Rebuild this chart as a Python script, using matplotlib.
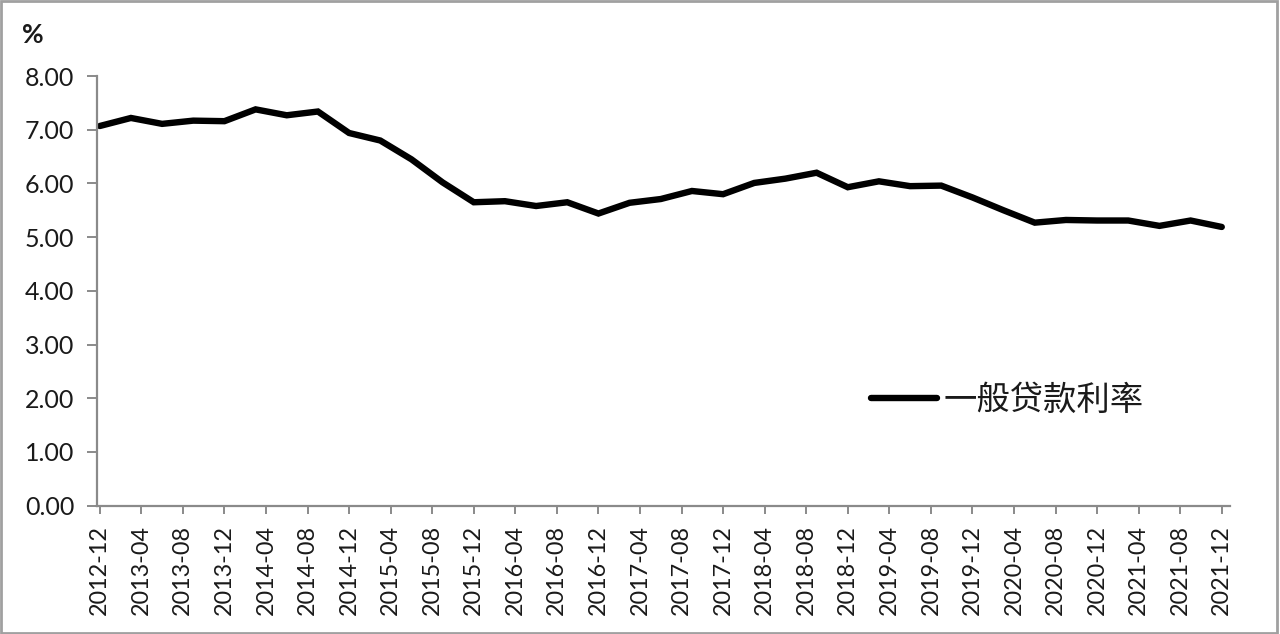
import matplotlib

matplotlib.use("Agg")
import matplotlib.pyplot as plt
from matplotlib.patches import Rectangle

plt.rcParams["font.family"] = ["Lato", "Noto Sans CJK SC", "DejaVu Sans"]

INK = "#1a1a1a"
AXIS_C = "#8a8a8a"

# quarterly data, 2012-12 .. 2021-12 (general loan weighted average rate, %)
quarters = [
    "2012-12", "2013-03", "2013-06", "2013-09", "2013-12",
    "2014-03", "2014-06", "2014-09", "2014-12",
    "2015-03", "2015-06", "2015-09", "2015-12",
    "2016-03", "2016-06", "2016-09", "2016-12",
    "2017-03", "2017-06", "2017-09", "2017-12",
    "2018-03", "2018-06", "2018-09", "2018-12",
    "2019-03", "2019-06", "2019-09", "2019-12",
    "2020-03", "2020-06", "2020-09", "2020-12",
    "2021-03", "2021-06", "2021-09", "2021-12",
]
rates = [
    7.07, 7.22, 7.11, 7.17, 7.16,
    7.38, 7.27, 7.34, 6.94,
    6.80, 6.45, 6.02, 5.65,
    5.67, 5.58, 5.65, 5.44,
    5.64, 5.71, 5.86, 5.80,
    6.01, 6.09, 6.20, 5.93,
    6.04, 5.95, 5.96, 5.74,
    5.50, 5.27, 5.32, 5.31,
    5.31, 5.21, 5.31, 5.19,
]
series_label = "一般贷款利率"


def month_index(s):
    y, m = s.split("-")
    return (int(y) - 2012) * 12 + int(m) - 12


x = [month_index(q) for q in quarters]
tick_pos = list(range(0, x[-1] + 1, 4))
tick_labels = []
for p in tick_pos:
    total = 2012 * 12 + 11 + p
    tick_labels.append(f"{total // 12}-{total % 12 + 1:02d}")

fig = plt.figure(figsize=(12.8, 6.34), dpi=100)
ax = fig.add_axes([0.0755, 0.2025, 0.8855, 0.6775])

ax.plot(x, rates, color="black", lw=4.6, solid_joinstyle="miter",
        solid_capstyle="round", label=series_label)

ax.set_xlim(-0.3, 108.8)
ax.set_ylim(0, 8)
ax.set_yticks([i for i in range(0, 9)])
ax.set_yticklabels([f"{i:.2f}" for i in range(0, 9)])
ax.set_xticks(tick_pos)
ax.set_xticklabels(tick_labels, rotation=90)

for side in ("top", "right"):
    ax.spines[side].set_visible(False)
for side in ("left", "bottom"):
    ax.spines[side].set_color(AXIS_C)
    ax.spines[side].set_linewidth(1.6)

ax.tick_params(axis="y", direction="out", length=7, width=1.4, color=AXIS_C,
               labelsize=18, labelcolor=INK, pad=9)
ax.tick_params(axis="x", direction="out", length=6, width=1.4, color=AXIS_C,
               labelsize=16.8, labelcolor=INK, pad=8)

fig.text(33 / 1280, 1 - 35 / 634, "%", fontsize=19, fontweight="bold",
         color=INK, ha="center", va="center")

leg = ax.legend(loc="center left", bbox_to_anchor=(854 / 1280, 1 - 400 / 634),
                bbox_transform=fig.transFigure, frameon=False, borderpad=0,
                handlelength=2.0, handletextpad=0.2,
                prop={"family": ["Noto Sans CJK SC", "DejaVu Sans"], "size": 24,
                      "weight": "light"})
for t in leg.get_texts():
    t.set_color(INK)

# grey frame around the whole chart area
fig.patches.append(Rectangle((0.001, 0.002), 0.997, 0.996, transform=fig.transFigure,
                             fill=False, ec="#a0a0a0", lw=2.0))

fig.savefig("out.png", dpi=100)
